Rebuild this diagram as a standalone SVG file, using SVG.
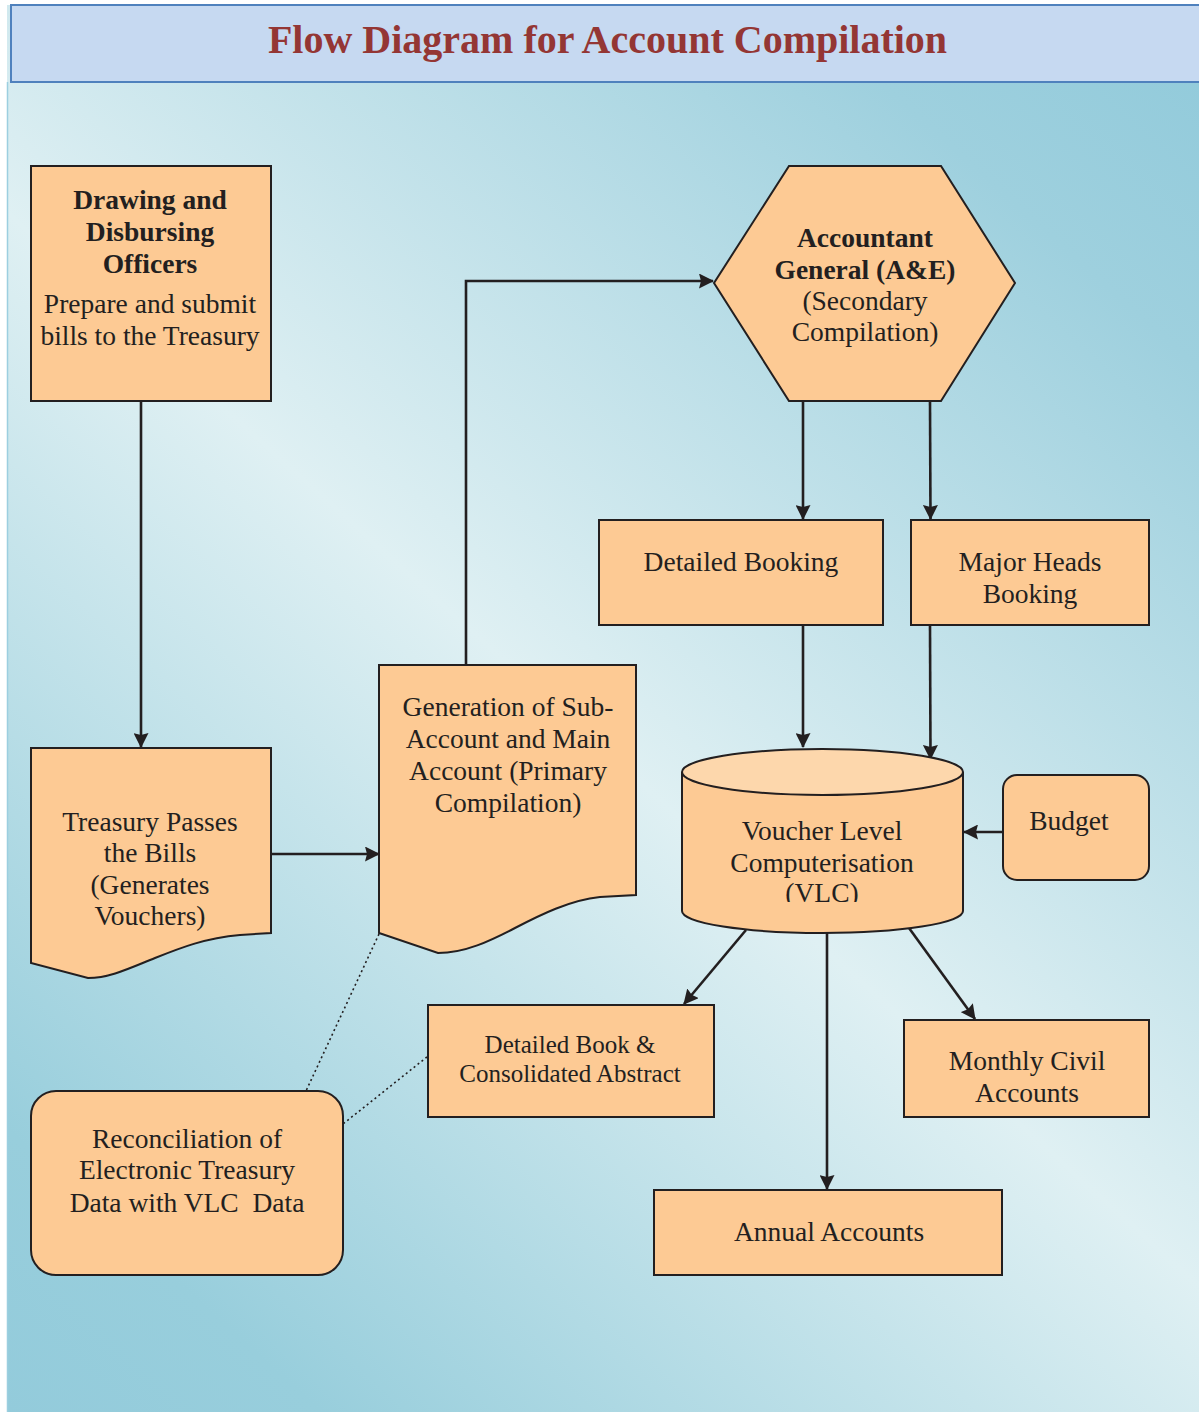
<svg xmlns="http://www.w3.org/2000/svg" width="1199" height="1412" viewBox="0 0 1199 1412">
<style>
.node{fill:#fdca94;stroke:#231f20;stroke-width:2}
.t{font-family:"Liberation Serif","Times New Roman",serif;font-size:27.5px;fill:#231f20;text-anchor:middle}
.b{font-weight:bold}
.s{font-size:25px}
.ln{fill:none;stroke:#231f20;stroke-width:2.6}
.dot{fill:none;stroke:#231f20;stroke-width:1.6;stroke-dasharray:2 3}
</style>
<defs>
<linearGradient id="bg" gradientUnits="userSpaceOnUse" x1="0" y1="1412" x2="1199" y2="80">
<stop offset="0" stop-color="#93cbdb"/>
<stop offset="0.12" stop-color="#98cedc"/>
<stop offset="0.5" stop-color="#dff0f3"/>
<stop offset="0.88" stop-color="#9ed0de"/>
<stop offset="1" stop-color="#93cbdb"/>
</linearGradient>
<marker id="ah" viewBox="0 0 15 15" refX="14" refY="7.5" markerWidth="15" markerHeight="15" markerUnits="userSpaceOnUse" orient="auto">
<path d="M0,0 L15,7.5 L0,15 L2,7.5 Z" fill="#231f20"/>
</marker>
<clipPath id="vlcclip"><rect x="682" y="760" width="281" height="142"/></clipPath>
</defs>
<rect width="1199" height="1412" fill="#ffffff"/>
<rect x="7" y="5" width="1192" height="1407" fill="url(#bg)"/>
<line x1="7.5" y1="82" x2="7.5" y2="1412" stroke="#9ccfe0" stroke-width="1.5"/>
<g id="title">
<rect x="11" y="5" width="1195" height="77" fill="#c6d9f1" stroke="#4f81bd" stroke-width="2"/>
<text x="607.5" y="53" font-family="Liberation Serif,'Times New Roman',serif" font-size="40" font-weight="bold" fill="#943634" text-anchor="middle">Flow Diagram for Account Compilation</text>
</g>
<g id="connectors">
<line class="ln" x1="141" y1="401" x2="141" y2="747" marker-end="url(#ah)"/>
<line class="ln" x1="271" y1="854" x2="379" y2="854" marker-end="url(#ah)"/>
<polyline class="ln" points="466,665 466,281 713,281" marker-end="url(#ah)"/>
<line class="ln" x1="803" y1="401" x2="803" y2="519" marker-end="url(#ah)"/>
<line class="ln" x1="930" y1="401" x2="930.5" y2="519" marker-end="url(#ah)"/>
<line class="ln" x1="803" y1="625" x2="803" y2="747" marker-end="url(#ah)"/>
<line class="ln" x1="930" y1="625" x2="930.5" y2="759" marker-end="url(#ah)"/>
<line class="ln" x1="1003" y1="832" x2="964" y2="832" marker-end="url(#ah)"/>
<line class="ln" x1="746" y1="930" x2="684" y2="1004" marker-end="url(#ah)"/>
<line class="ln" x1="827" y1="933" x2="827" y2="1189" marker-end="url(#ah)"/>
<line class="ln" x1="909" y1="928" x2="975" y2="1019" marker-end="url(#ah)"/>
<line class="dot" x1="379" y1="934" x2="306" y2="1091"/>
<line class="dot" x1="427" y1="1057" x2="343" y2="1124"/>
</g>
<g id="ddo">
<rect class="node" x="31" y="166" width="240" height="235"/>
<text class="t b" x="150" y="209">Drawing and</text>
<text class="t b" x="150" y="241">Disbursing</text>
<text class="t b" x="150" y="273">Officers</text>
<text class="t" x="150" y="313">Prepare and submit</text>
<text class="t" x="150" y="345">bills to the Treasury</text>
</g>
<g id="treasury">
<path class="node" d="M31,748 H271 V933 L240,935 C205,938 180,948 155,958 C130,968 110,978 88,978 L31,963 Z"/>
<text class="t" x="150" y="831">Treasury Passes</text>
<text class="t" x="150" y="862">the Bills</text>
<text class="t" x="150" y="894">(Generates</text>
<text class="t" x="150" y="925">Vouchers)</text>
</g>
<g id="generation">
<path class="node" d="M379,665 H636 V895 L600,897 C570,900 540,915 515,928 C490,941 465,953 438,953 L379,933 Z"/>
<text class="t" x="508" y="716">Generation of Sub-</text>
<text class="t" x="508" y="748">Account and Main</text>
<text class="t" x="508" y="780">Account (Primary</text>
<text class="t" x="508" y="812">Compilation)</text>
</g>
<g id="ag">
<polygon class="node" points="789,166 941,166 1015,283 941,401 789,401 714,283"/>
<text class="t b" x="865" y="247">Accountant</text>
<text class="t b" x="865" y="279">General (A&amp;E)</text>
<text class="t" x="865" y="310">(Secondary</text>
<text class="t" x="865" y="341">Compilation)</text>
</g>
<g id="detailed-booking">
<rect class="node" x="599" y="520" width="284" height="105"/>
<text class="t" x="741" y="571">Detailed Booking</text>
</g>
<g id="major-heads">
<rect class="node" x="911" y="520" width="238" height="105"/>
<text class="t" x="1030" y="571">Major Heads</text>
<text class="t" x="1030" y="603">Booking</text>
</g>
<g id="vlc">
<path class="node" d="M682,772 V911 A140.5,22 0 0 0 963,911 V772"/>
<ellipse cx="822.5" cy="772" rx="140.5" ry="23" fill="#fdd7ac" stroke="#231f20" stroke-width="2"/>
<text class="t" x="822" y="840">Voucher Level</text>
<text class="t" x="822" y="872">Computerisation</text>
<text class="t" x="822" y="902" clip-path="url(#vlcclip)">(VLC)</text>
</g>
<g id="budget">
<rect class="node" x="1003" y="775" width="146" height="105" rx="14"/>
<text class="t" x="1069" y="830">Budget</text>
</g>
<g id="detailed-book">
<rect class="node" x="428" y="1005" width="286" height="112"/>
<text class="t s" x="570" y="1053">Detailed Book &amp;</text>
<text class="t s" x="570" y="1082">Consolidated Abstract</text>
</g>
<g id="monthly">
<rect class="node" x="904" y="1020" width="245" height="97"/>
<text class="t" x="1027" y="1070">Monthly Civil</text>
<text class="t" x="1027" y="1102">Accounts</text>
</g>
<g id="annual">
<rect class="node" x="654" y="1190" width="348" height="85"/>
<text class="t" x="829" y="1241">Annual Accounts</text>
</g>
<g id="reconciliation">
<rect class="node" x="31" y="1091" width="312" height="184" rx="25"/>
<text class="t" x="187" y="1148">Reconciliation of</text>
<text class="t" x="187" y="1179">Electronic Treasury</text>
<text class="t" x="187" y="1212" xml:space="preserve">Data with VLC  Data</text>
</g>
</svg>
